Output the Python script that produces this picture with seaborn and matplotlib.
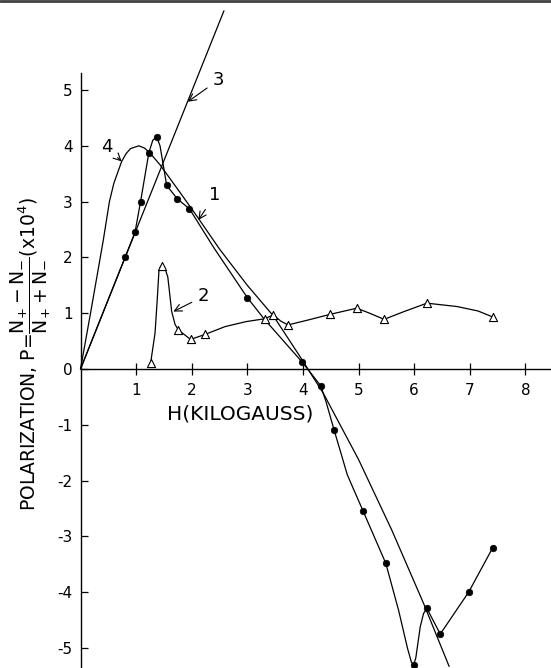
"""
Polarization P vs magnetic field H (kilogauss), curves 1-4.
"""

import matplotlib
matplotlib.use('Agg')
import matplotlib.pyplot as plt
import seaborn as sns
from matplotlib.lines import Line2D

# curve 1: measured points (filled dots)
H1_PTS = [0.80, 0.98, 1.08, 1.23, 1.37, 1.55, 1.74, 1.96, 3.00, 3.99, 4.32,
          4.56, 5.08, 5.49, 5.99, 6.23, 6.47, 6.98, 7.41]
P1_PTS = [2.00, 2.45, 3.00, 3.88, 4.16, 3.29, 3.05, 2.87, 1.28, 0.12, -0.30,
          -1.09, -2.54, -3.48, -5.30, -4.29, -4.75, -4.00, -3.21]
# curve 1: drawn line
H1_LINE = [0, 0.80, 0.98, 1.08, 1.23, 1.30, 1.37, 1.43, 1.55, 1.74, 1.96, 2.40,
           3.00, 3.30, 3.99, 4.32, 4.42, 4.56, 4.80, 5.08, 5.49, 5.72, 5.88,
           5.95, 5.99, 6.03, 6.07, 6.11, 6.17, 6.23, 6.47, 6.98, 7.41]
P1_LINE = [0, 2.00, 2.45, 3.00, 3.88, 4.10, 4.16, 4.00, 3.29, 3.05, 2.87, 2.17,
           1.28, 0.90, 0.12, -0.30, -0.60, -1.09, -1.90, -2.54, -3.48, -4.32,
           -5.00, -5.25, -5.30, -5.18, -4.90, -4.62, -4.38, -4.29, -4.75, -4.00,
           -3.21]

# curve 2: measured points (open triangles)
H2_PTS = [1.26, 1.47, 1.76, 1.98, 2.24, 3.31, 3.47, 3.73, 4.49, 4.97, 5.46, 6.23, 7.42]
P2_PTS = [0.10, 1.85, 0.70, 0.53, 0.62, 0.90, 0.97, 0.79, 0.98, 1.09, 0.89, 1.18, 0.93]
H2_LINE = [1.26, 1.34, 1.38, 1.41, 1.44, 1.47, 1.52, 1.57, 1.64, 1.70, 1.76, 1.98,
           2.24, 2.60, 2.98, 3.31, 3.47, 3.60, 3.73, 4.10, 4.49, 4.97, 5.20, 5.46,
           5.82, 6.23, 6.77, 7.15, 7.42]
P2_LINE = [0.10, 0.64, 1.24, 1.75, 1.84, 1.85, 1.80, 1.65, 1.03, 0.80, 0.70, 0.53,
           0.62, 0.76, 0.85, 0.90, 0.97, 0.86, 0.79, 0.88, 0.98, 1.09, 1.00, 0.89,
           1.03, 1.18, 1.12, 1.04, 0.93]

# curve 3: straight line
H3 = [0, 2.58]
P3 = [0, 6.42]

# curve 4: smooth theory curve
H4 = [0, 0.18, 0.41, 0.52, 0.60, 0.74, 0.82, 0.90, 1.05, 1.15, 1.25, 1.43, 1.80,
      2.12, 2.50, 3.00, 3.47, 3.95, 4.37, 5.00, 5.60, 6.17, 6.63]
P4 = [0, 1.00, 2.31, 3.00, 3.33, 3.72, 3.86, 3.95, 4.00, 3.96, 3.87, 3.66, 3.15,
      2.70, 2.15, 1.50, 0.95, 0.22, -0.44, -1.62, -2.89, -4.20, -5.33]

X_TICKS = [1, 2, 3, 4, 5, 6, 7, 8]
Y_TICKS = [-5, -4, -3, -2, -1, 0, 1, 2, 3, 4, 5]
Y_TICK_LABELS = ['-5', '-4', '-3', '-2', '-1', '0', '1', '2', '3', '4', '5']

CURVE_LABELS = ['1', '2', '3', '4']
LABEL_POS = [(2.42, 3.12), (2.21, 1.30), (2.48, 5.18), (0.47, 3.98)]
ARROW_TIP = [(2.12, 2.67), (1.67, 1.03), (1.93, 4.79), (0.74, 3.72)]

sns.set_style('white')
plt.rcParams['font.family'] = ['DejaVu Sans']
plt.rcParams['text.color'] = 'black'
plt.rcParams['lines.solid_joinstyle'] = 'round'

fig = plt.figure(figsize=(5.51, 6.68), dpi=100)
ax = fig.add_axes([0, 0, 1, 1])
ax.set_facecolor('white')

line_kw = dict(color='black', lw=0.9, sort=False, estimator=None, ax=ax)
sns.lineplot(x=H3, y=P3, **line_kw)
sns.lineplot(x=H4, y=P4, **line_kw)
sns.lineplot(x=H1_LINE, y=P1_LINE, **line_kw)
sns.lineplot(x=H2_LINE, y=P2_LINE, **line_kw)

sns.scatterplot(x=H1_PTS, y=P1_PTS, marker='o', s=22, color='black',
                edgecolor='black', linewidth=0.5, zorder=5, ax=ax)
sns.scatterplot(x=H2_PTS, y=P2_PTS, marker='^', s=34, facecolor='white',
                edgecolor='black', linewidth=0.8, zorder=5, ax=ax)

for lab, pos, tip in zip(CURVE_LABELS, LABEL_POS, ARROW_TIP):
    ax.annotate(lab, xy=tip, xytext=pos, ha='center', va='center', fontsize=13,
                color='black',
                arrowprops=dict(arrowstyle='->', lw=0.8, color='black',
                                shrinkA=2, shrinkB=0))

ax.set_xlim(-1.448, 8.462)
ax.set_ylim(-5.358, 6.613)

for side in ['top', 'right']:
    ax.spines[side].set_visible(False)
ax.spines['left'].set_position(('data', 0))
ax.spines['bottom'].set_position(('data', 0))
ax.spines['left'].set_bounds(-5.36, 5.3)
ax.spines['bottom'].set_bounds(0, 8.462)
for side in ['left', 'bottom']:
    ax.spines[side].set_color('black')
    ax.spines[side].set_linewidth(1.0)

ax.set_xticks(X_TICKS)
ax.set_xticklabels([str(t) for t in X_TICKS])
ax.set_yticks(Y_TICKS)
ax.set_yticklabels(Y_TICK_LABELS)
ax.tick_params(axis='x', direction='inout', length=8.6, width=0.9,
               pad=5.5, labelsize=11, colors='black', bottom=True)
ax.tick_params(axis='y', direction='in', length=5, width=0.9,
               pad=5.5, labelsize=11, colors='black', left=True)

ax.text(2.87, -0.81, 'H(KILOGAUSS)', ha='center', va='center', fontsize=14.5,
        color='black')
ax.text(-0.90, 0.27,
        r'POLARIZATION, P=$\dfrac{\mathrm{N}_{+}-\mathrm{N}_{-}}'
        r'{\mathrm{N}_{+}+\mathrm{N}_{-}}$(x10$^4$)',
        rotation=90, ha='center', va='center', fontsize=13.5, color='black')

# scan border at the top of the page
fig.add_artist(Line2D([0, 1], [0.998, 0.998], transform=fig.transFigure,
                      color='0.25', lw=2))

fig.savefig('out.png', dpi=100)
